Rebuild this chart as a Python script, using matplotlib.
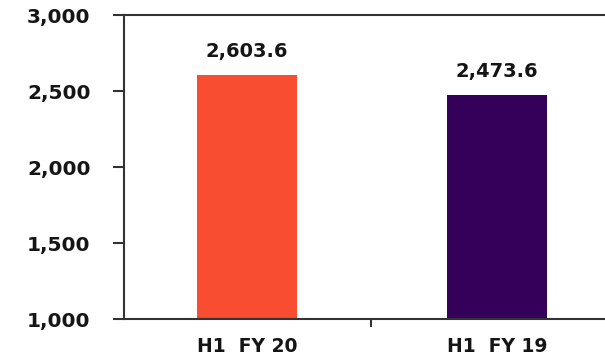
import matplotlib
matplotlib.use("Agg")
import matplotlib.pyplot as plt

# data
categories = ["H1  FY 20", "H1  FY 19"]
values = [2603.6, 2473.6]
bar_colors = ["#F94D32", "#35005A"]
y_ticks = [1000, 1500, 2000, 2500, 3000]

fig = plt.figure(figsize=(6.05, 3.61), dpi=100)
# axes box in pixel terms: left 124, right 605, bottom 319, top 15
ax = fig.add_axes([124 / 605, (361 - 319) / 361, (605 - 124) / 605, (319 - 15) / 361])

x = list(range(len(categories)))
ax.bar(x, [v - 1000 for v in values], bottom=1000, width=0.4, color=bar_colors)

for xi, v in zip(x, values):
    ax.annotate(f"{v:,.1f}", (xi, v), xytext=(0, 13), textcoords="offset points",
                ha="center", va="baseline", fontsize=14, fontweight="bold", color="#151515")

ax.set_ylim(1000, 3000)
ax.set_xlim(-0.492, 1.432)
ax.set_yticks(y_ticks)
ax.set_yticklabels([f"{t:,}" for t in y_ticks])
ax.set_xticks(x)
ax.set_xticklabels(categories)
ax.tick_params(axis="x", length=0, pad=13)
ax.set_xticks([0.496], minor=True)
ax.tick_params(axis="x", which="minor", length=6, width=1.5, color="#333333", direction="out")
ax.tick_params(axis="y", length=8, width=1.5, color="#333333", direction="out", pad=16)
for lab in ax.get_yticklabels():
    lab.set_fontsize(14.5)
    lab.set_fontweight("bold")
    lab.set_color("#151515")
for lab in ax.get_xticklabels():
    lab.set_fontsize(13.5)
    lab.set_fontweight("bold")
    lab.set_color("#151515")

for side in ["left", "bottom", "top"]:
    ax.spines[side].set_linewidth(1.5)
    ax.spines[side].set_color("#333333")
ax.spines["right"].set_visible(False)

fig.savefig("out.png", dpi=100)
